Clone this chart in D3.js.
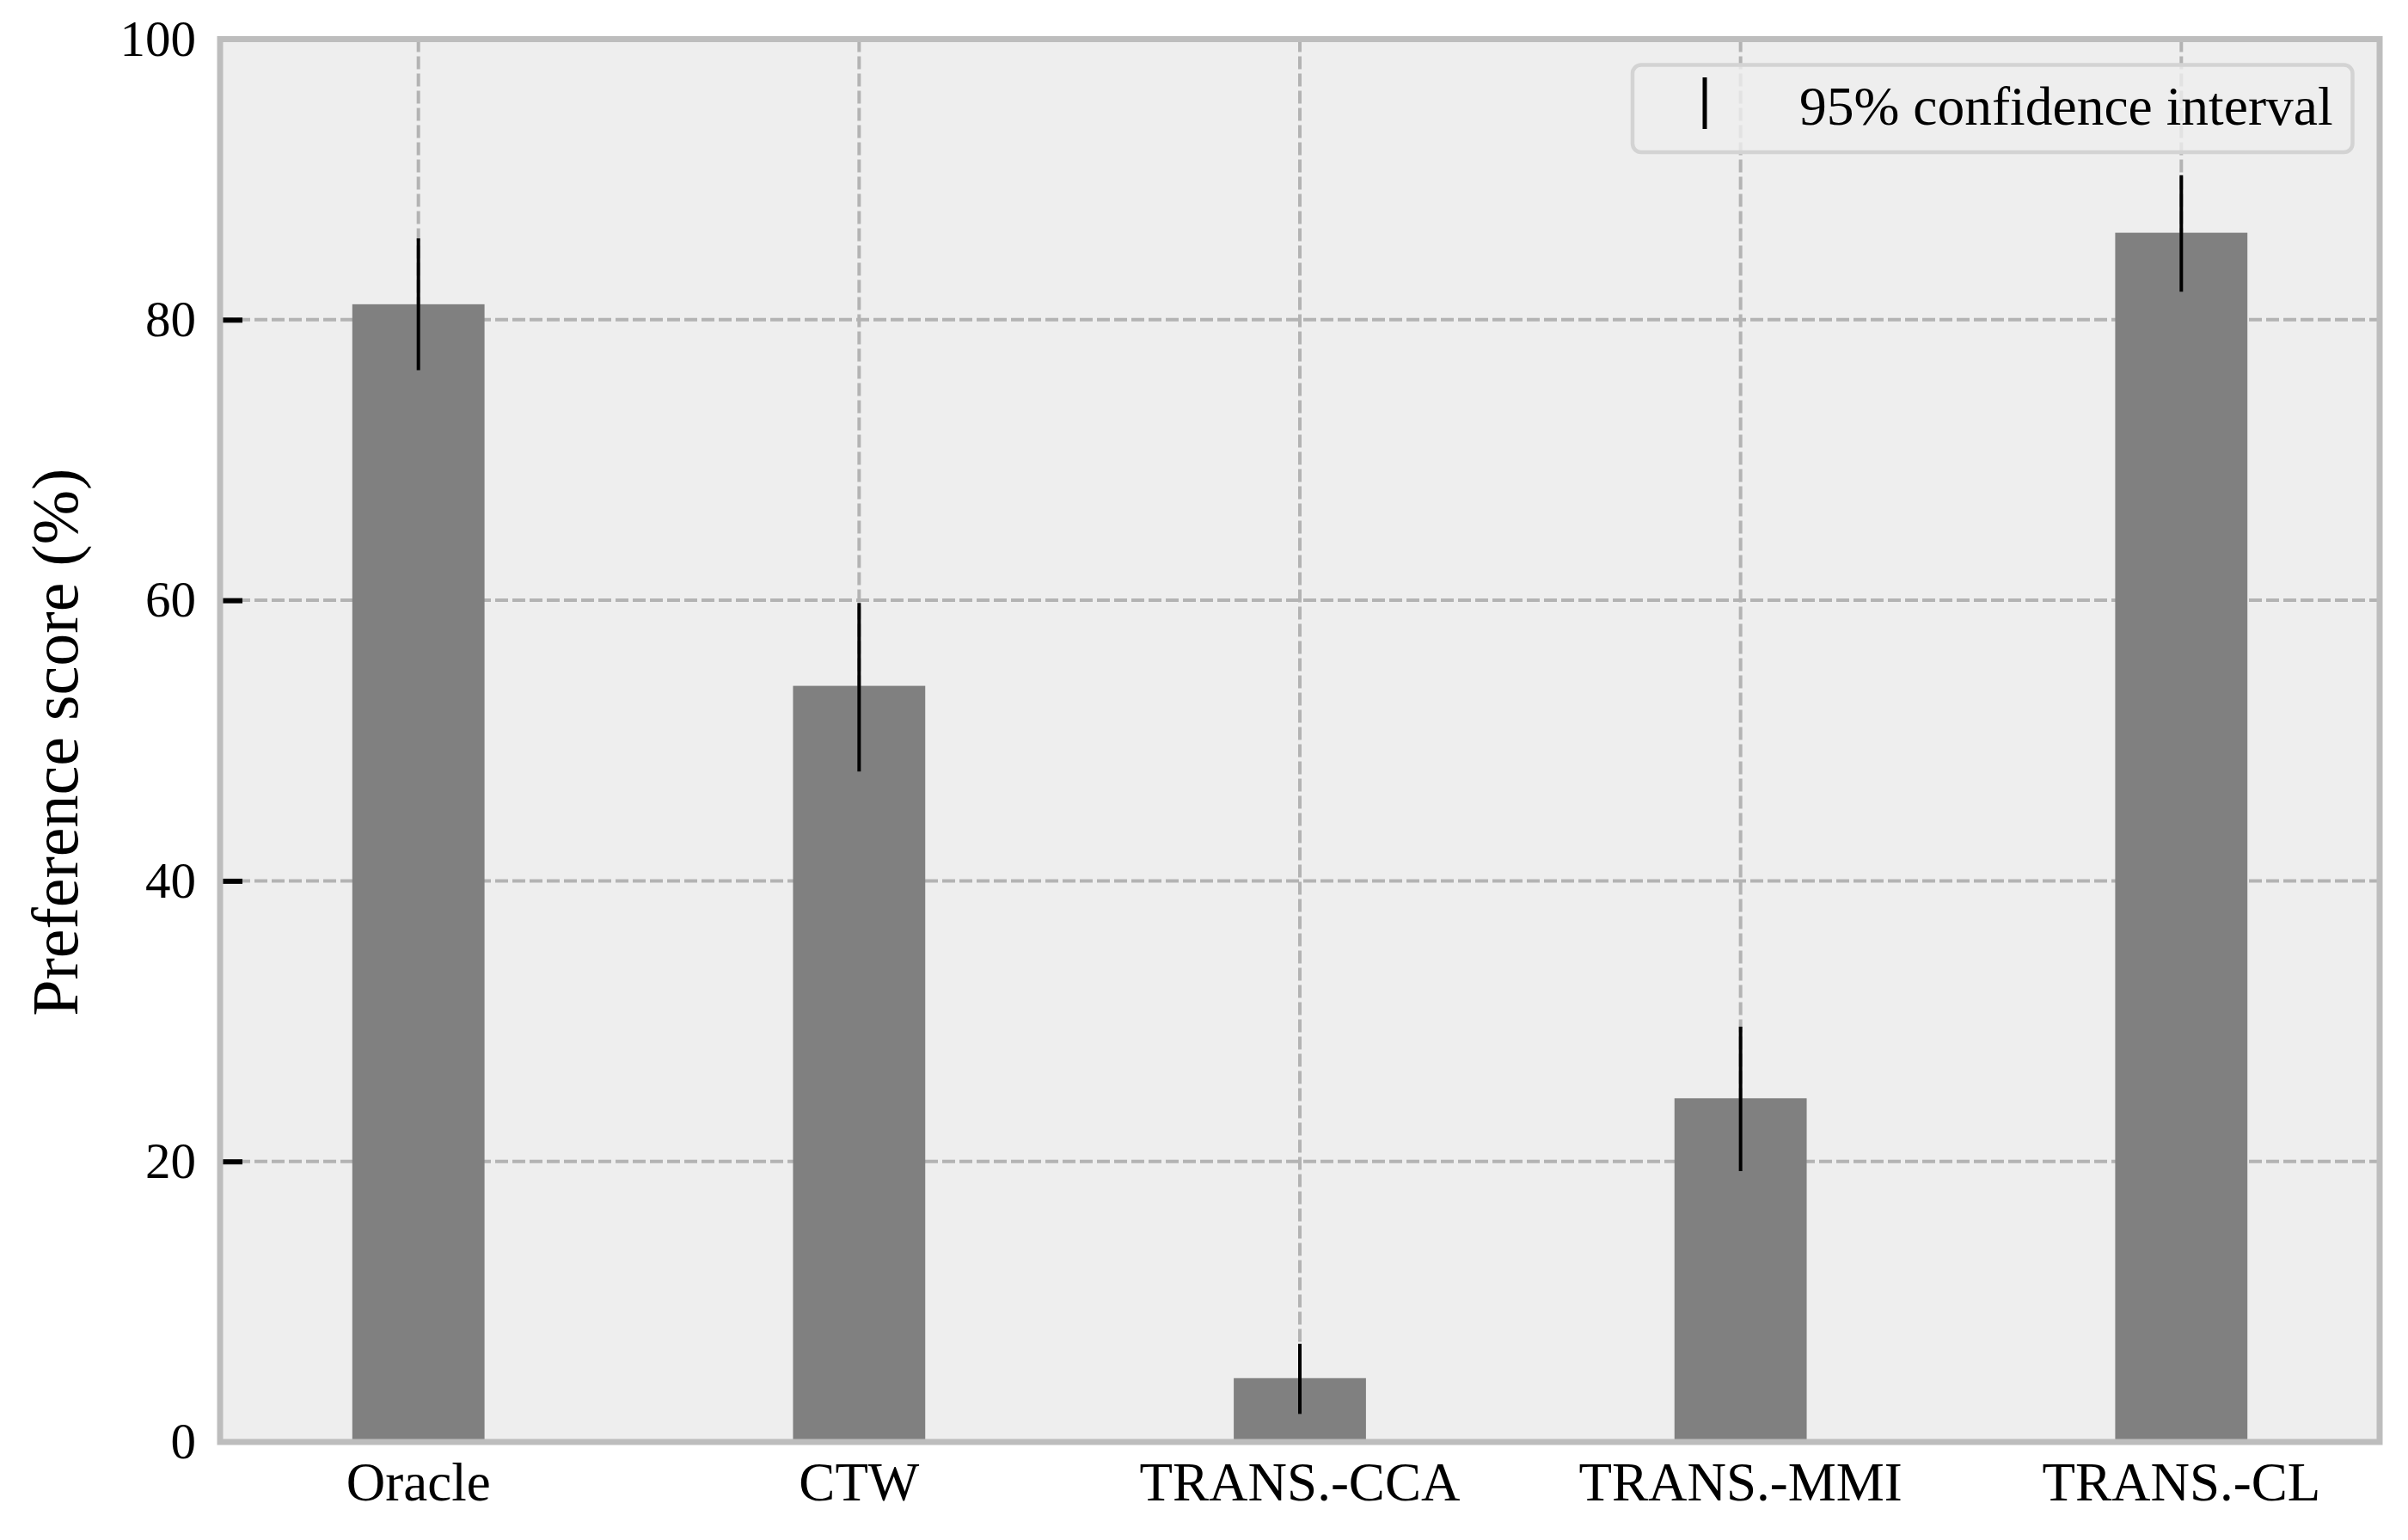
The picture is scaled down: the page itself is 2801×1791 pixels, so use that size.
<!DOCTYPE html>
<html>
<head>
<meta charset="utf-8">
<script src="https://cdn.jsdelivr.net/npm/d3@7"></script>
<style>
  html, body { margin: 0; padding: 0; background: #ffffff; }
  svg { display: block; }
  text { font-family: "Liberation Serif", "DejaVu Serif", serif; fill: #000; }
</style>
</head>
<body>
<script>
// ---- data ----
const categories = ["Oracle", "CTW", "TRANS.-CCA", "TRANS.-MMI", "TRANS.-CL"];
const scores = [81.1, 53.9, 4.55, 24.5, 86.2];
const ciLower = [76.4, 47.8, 2.0, 19.3, 82.0];
const ciUpper = [85.8, 59.8, 7.0, 29.6, 90.3];
const yTicks = [0, 20, 40, 60, 80, 100];
const yLabel = "Preference score (%)";
const legendLabel = "95% confidence interval";

// ---- layout ----
const W = 2801, H = 1791;
const plot = { left: 256, right: 2768, top: 45.5, bottom: 1677 };

const svg = d3.select("body").append("svg")
  .attr("width", W).attr("height", H);

const x = d3.scaleBand()
  .domain(categories)
  .range([plot.left, plot.right])
  .paddingInner(0.7)
  .paddingOuter(0.3);

const y = d3.scaleLinear()
  .domain([0, 100])
  .range([plot.bottom, plot.top]);

// background
svg.append("rect")
  .attr("x", plot.left).attr("y", plot.top)
  .attr("width", plot.right - plot.left)
  .attr("height", plot.bottom - plot.top)
  .attr("fill", "#eeeeee");

// grid lines
const grid = svg.append("g");
grid.selectAll("line.hg").data(yTicks.filter(d => d > 0 && d < 100)).join("line")
  .attr("class", "hg")
  .attr("x1", plot.left).attr("x2", plot.right)
  .attr("y1", d => y(d)).attr("y2", d => y(d))
  .attr("stroke", "#b3b3b3").attr("stroke-width", 4)
  .attr("stroke-dasharray", "15,5");
grid.selectAll("line.vg").data(categories).join("line")
  .attr("class", "vg")
  .attr("x1", d => x(d) + x.bandwidth() / 2).attr("x2", d => x(d) + x.bandwidth() / 2)
  .attr("y1", plot.top).attr("y2", plot.bottom)
  .attr("stroke", "#b3b3b3").attr("stroke-width", 4)
  .attr("stroke-dasharray", "15,5");

// bars
svg.append("g").selectAll("rect").data(categories).join("rect")
  .attr("x", d => x(d))
  .attr("width", x.bandwidth())
  .attr("y", (d, i) => y(scores[i]))
  .attr("height", (d, i) => y(0) - y(scores[i]))
  .attr("fill", "#808080");

// error bars
svg.append("g").selectAll("line").data(categories).join("line")
  .attr("x1", d => x(d) + x.bandwidth() / 2)
  .attr("x2", d => x(d) + x.bandwidth() / 2)
  .attr("y1", (d, i) => y(ciLower[i]))
  .attr("y2", (d, i) => y(ciUpper[i]))
  .attr("stroke", "#000").attr("stroke-width", 4);

// y axis ticks (inward) and labels
const yAxis = d3.axisLeft(y).tickValues(yTicks).tickSizeInner(-26).tickSizeOuter(0).tickPadding(28);
const gy = svg.append("g").attr("transform", `translate(${plot.left},0)`).call(yAxis);
gy.select(".domain").remove();
gy.selectAll(".tick line")
  .attr("stroke", "#000").attr("stroke-width", 6)
  .attr("stroke-opacity", d => (d === 0 || d === 100) ? 0 : 1);
gy.selectAll(".tick text")
  .attr("font-family", "Liberation Serif, DejaVu Serif, serif")
  .attr("font-size", 59).attr("fill", "#000");

// x axis labels (no tick marks)
const xAxis = d3.axisBottom(x).tickSize(0).tickPadding(23);
const gx = svg.append("g").attr("transform", `translate(0,${plot.bottom})`).call(xAxis);
gx.select(".domain").remove();
gx.selectAll(".tick text")
  .attr("font-family", "Liberation Serif, DejaVu Serif, serif")
  .attr("font-size", 63).attr("fill", "#000");

// frame
svg.append("rect")
  .attr("x", plot.left).attr("y", plot.top)
  .attr("width", plot.right - plot.left)
  .attr("height", plot.bottom - plot.top)
  .attr("fill", "none").attr("stroke", "#bdbdbd").attr("stroke-width", 7);

// y label
svg.append("text")
  .attr("transform", `translate(90,${(plot.top + plot.bottom) / 2 + 2}) rotate(-90)`)
  .attr("text-anchor", "middle")
  .attr("font-size", 76)
  .text(yLabel);

// legend
const lg = svg.append("g");
lg.append("rect")
  .attr("x", 1899).attr("y", 75.5).attr("width", 837.5).attr("height", 101.5)
  .attr("rx", 10).attr("ry", 10)
  .attr("fill", "#eeeeee").attr("fill-opacity", 0.8)
  .attr("stroke", "#d3d3d3").attr("stroke-width", 4.5);
lg.append("line")
  .attr("x1", 1983).attr("x2", 1983).attr("y1", 90).attr("y2", 150)
  .attr("stroke", "#000").attr("stroke-width", 5);
lg.append("text")
  .attr("x", 2093).attr("y", 145)
  .attr("font-size", 63.5)
  .text(legendLabel);
</script>
</body>
</html>
